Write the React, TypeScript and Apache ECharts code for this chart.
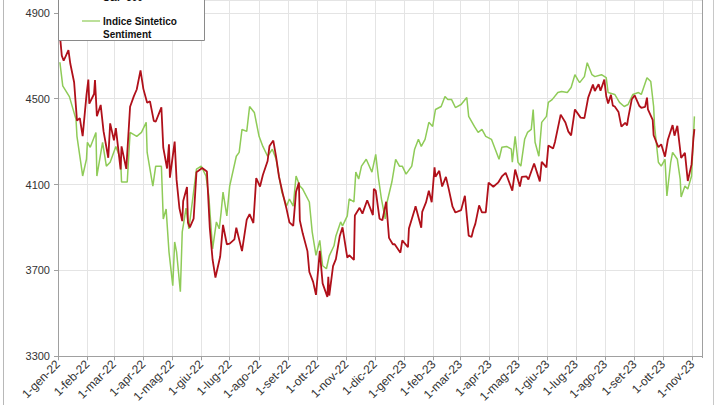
import React, { useEffect, useRef } from "react";
import * as echarts from "echarts";

const spxDates = [
  "2022-01-03","2022-01-05","2022-01-07","2022-01-12","2022-01-14","2022-01-18","2022-01-21","2022-01-24","2022-01-27","2022-01-31",
  "2022-02-02","2022-02-03","2022-02-08","2022-02-09","2022-02-11","2022-02-15","2022-02-18","2022-02-23","2022-02-25",
  "2022-03-01","2022-03-03","2022-03-08","2022-03-09","2022-03-14","2022-03-18","2022-03-22","2022-03-25","2022-03-29",
  "2022-04-01","2022-04-05","2022-04-08","2022-04-12","2022-04-14","2022-04-20","2022-04-22","2022-04-26","2022-04-28","2022-04-29",
  "2022-05-04","2022-05-06","2022-05-09","2022-05-12","2022-05-13","2022-05-17","2022-05-18","2022-05-20","2022-05-24","2022-05-27",
  "2022-06-02","2022-06-07","2022-06-10","2022-06-13","2022-06-16","2022-06-21","2022-06-24","2022-06-28",
  "2022-07-01","2022-07-06","2022-07-08","2022-07-14","2022-07-19","2022-07-22","2022-07-26","2022-07-29",
  "2022-08-02","2022-08-05","2022-08-10","2022-08-12","2022-08-16","2022-08-19","2022-08-22","2022-08-26","2022-08-30",
  "2022-09-02","2022-09-06","2022-09-09","2022-09-12","2022-09-13","2022-09-16","2022-09-21","2022-09-23","2022-09-27","2022-09-30",
  "2022-10-04","2022-10-07","2022-10-12","2022-10-13","2022-10-14","2022-10-18","2022-10-21","2022-10-25","2022-10-28",
  "2022-11-02","2022-11-04","2022-11-09","2022-11-10","2022-11-15","2022-11-18","2022-11-23","2022-11-29","2022-11-30",
  "2022-12-02","2022-12-06","2022-12-09","2022-12-13","2022-12-16","2022-12-20","2022-12-22","2022-12-28","2022-12-30",
  "2023-01-05","2023-01-06","2023-01-12","2023-01-13","2023-01-19","2023-01-20","2023-01-24","2023-01-27","2023-01-30",
  "2023-02-02","2023-02-03","2023-02-07","2023-02-10","2023-02-14","2023-02-17","2023-02-21","2023-02-24",
  "2023-03-02","2023-03-06","2023-03-10","2023-03-13","2023-03-15","2023-03-17","2023-03-21","2023-03-24","2023-03-28","2023-03-31",
  "2023-04-05","2023-04-10","2023-04-14","2023-04-18","2023-04-25","2023-04-28",
  "2023-05-03","2023-05-05","2023-05-10","2023-05-12","2023-05-18","2023-05-24","2023-05-26","2023-05-31",
  "2023-06-02","2023-06-07","2023-06-09","2023-06-15","2023-06-20","2023-06-23","2023-06-26","2023-06-30",
  "2023-07-06","2023-07-10","2023-07-14","2023-07-19","2023-07-21","2023-07-25","2023-07-27","2023-07-31",
  "2023-08-02","2023-08-04","2023-08-07","2023-08-09","2023-08-11","2023-08-15","2023-08-18","2023-08-22","2023-08-24","2023-08-25","2023-08-29",
  "2023-09-01","2023-09-06","2023-09-08","2023-09-12","2023-09-14","2023-09-15","2023-09-20","2023-09-21","2023-09-26","2023-09-29",
  "2023-10-03","2023-10-06","2023-10-11","2023-10-13","2023-10-16","2023-10-20","2023-10-24","2023-10-27","2023-10-31",
  "2023-11-02","2023-11-03"
];
const spxValues = [
  4797,4701,4677,4726,4663,4577,4398,4410,4326,4516,
  4589,4477,4522,4587,4419,4471,4349,4225,4385,
  4306,4363,4171,4278,4173,4463,4512,4543,4632,
  4546,4481,4488,4397,4393,4460,4272,4175,4288,4132,
  4300,4123,3991,3930,4024,4089,3924,3901,3941,4158,
  4177,4161,3901,3750,3667,3765,3912,3822,
  3825,3845,3899,3790,3937,3962,3921,4130,
  4091,4145,4210,4280,4305,4228,4137,4058,3986,
  3924,3908,4067,4110,3933,3873,3790,3693,3647,3586,
  3791,3640,3577,3670,3583,3720,3753,3859,3901,
  3760,3771,3749,3956,3992,3965,4027,3958,4080,
  4072,3941,3934,4020,3852,3822,3822,3783,3840,
  3808,3895,3983,3999,3899,3973,4017,4071,4018,
  4180,4137,4164,4091,4136,4079,3997,3970,
  3981,4048,3862,3856,3892,3917,4003,3971,3971,4109,
  4090,4109,4138,4155,4072,4170,
  4091,4136,4138,4124,4198,4115,4206,4180,
  4282,4268,4299,4426,4389,4348,4329,4450,
  4412,4410,4505,4566,4536,4568,4537,4589,
  4513,4478,4518,4468,4464,4438,4370,4388,4376,4406,4498,
  4516,4466,4458,4462,4505,4450,4402,4330,4274,4288,
  4230,4309,4377,4328,4374,4224,4248,4117,4194,
  4318,4358
];

const sentDates = [
  "2022-01-03","2022-01-06","2022-01-13","2022-01-20","2022-01-21","2022-01-26","2022-01-27","2022-01-31",
  "2022-02-01","2022-02-04","2022-02-10","2022-02-11","2022-02-17","2022-02-21","2022-02-25",
  "2022-03-03","2022-03-08","2022-03-09","2022-03-15","2022-03-18","2022-03-25","2022-03-30",
  "2022-04-04","2022-04-05","2022-04-11","2022-04-14","2022-04-20","2022-04-22","2022-04-25","2022-04-28",
  "2022-05-02","2022-05-04","2022-05-06","2022-05-10","2022-05-12","2022-05-16","2022-05-19","2022-05-23","2022-05-27",
  "2022-06-01","2022-06-06","2022-06-09","2022-06-13","2022-06-17","2022-06-20","2022-06-22","2022-06-24","2022-06-28",
  "2022-07-01","2022-07-08","2022-07-11","2022-07-14","2022-07-19","2022-07-22","2022-07-27",
  "2022-08-01","2022-08-05","2022-08-10","2022-08-15","2022-08-19","2022-08-22","2022-08-25","2022-08-30",
  "2022-09-02","2022-09-06","2022-09-09","2022-09-13","2022-09-16","2022-09-23","2022-09-26","2022-09-30",
  "2022-10-04","2022-10-07","2022-10-11","2022-10-14","2022-10-19","2022-10-21","2022-10-26","2022-10-28",
  "2022-11-02","2022-11-04","2022-11-09","2022-11-11","2022-11-14","2022-11-17","2022-11-22","2022-11-28",
  "2022-12-02","2022-12-05","2022-12-08","2022-12-12","2022-12-14","2022-12-19","2022-12-23","2022-12-27","2022-12-30",
  "2023-01-03","2023-01-09","2023-01-12","2023-01-16","2023-01-19","2023-01-23","2023-01-27","2023-01-31",
  "2023-02-03","2023-02-09","2023-02-13","2023-02-16","2023-02-20","2023-02-24",
  "2023-03-02","2023-03-08","2023-03-10","2023-03-16","2023-03-20","2023-03-24","2023-03-28",
  "2023-04-03","2023-04-07","2023-04-11","2023-04-14","2023-04-19","2023-04-24","2023-04-25","2023-04-28",
  "2023-05-01","2023-05-04","2023-05-08","2023-05-11","2023-05-15","2023-05-17","2023-05-19","2023-05-23","2023-05-26","2023-05-31",
  "2023-06-02","2023-06-06","2023-06-12","2023-06-16","2023-06-22","2023-06-26","2023-06-30",
  "2023-07-03","2023-07-05","2023-07-10","2023-07-13","2023-07-18","2023-07-21","2023-07-28",
  "2023-08-02","2023-08-04","2023-08-11","2023-08-16","2023-08-21","2023-08-25","2023-08-30",
  "2023-09-05","2023-09-08","2023-09-14","2023-09-18","2023-09-21","2023-09-22","2023-09-26","2023-09-29",
  "2023-10-03","2023-10-05","2023-10-09","2023-10-11","2023-10-16","2023-10-19","2023-10-20","2023-10-24","2023-10-27","2023-10-31",
  "2023-11-03"
];
const sentValues = [
  4670,4560,4510,4404,4325,4172,4140,4218,
  4297,4274,4343,4140,4297,4186,4204,
  4278,4218,4112,4112,4343,4325,4343,
  4390,4250,4093,4186,4186,3940,3986,3787,
  3629,3833,3787,3601,3880,3990,3894,4033,4172,
  4186,4140,4047,3801,3926,3894,3972,4065,3954,
  4093,4232,4250,4357,4348,4464,4436,
  4325,4278,4232,4265,4218,4140,4065,4000,
  4033,4000,4140,4093,4079,4019,3880,3770,
  3840,3722,3708,3768,3815,3861,3926,3908,
  3954,4033,4019,4158,4126,4186,4218,4158,
  4241,4126,4033,3940,4019,4112,4218,4186,4186,
  4149,4186,4265,4311,4278,4311,4390,4371,
  4450,4464,4510,4496,4496,4459,
  4473,4506,4418,4371,4343,4357,4325,
  4311,4265,4218,4274,4278,4265,4204,4325,
  4204,4186,4311,4343,4357,4450,4297,4232,4390,4418,
  4483,4496,4529,4534,4529,4552,4612,
  4589,4575,4603,4668,4612,4603,4612,
  4598,4529,4520,4483,4464,4473,4520,
  4529,4520,4598,4580,4464,4371,4204,4186,
  4218,4047,4204,4250,4218,4126,4042,4093,4079,4140,
  4418
];

const monthNames = ["gen","feb","mar","apr","mag","giu","lug","ago","set","ott","nov","dic"];
const seriesNames = ["S&P 500", "Indice Sintetico\nSentiment"];
const yMin = 3300;
const yMax = 4960;
const yInterval = 400;
const xMin = "2022-01-01";
const xMax = "2023-11-11";

const RED = "#b0101a";
const GREEN = "#8fcb58";

export default function App() {
  const ref = useRef<HTMLDivElement>(null);
  useEffect(() => {
    if (!ref.current) return;
    const chart = echarts.init(ref.current, null, { renderer: "svg" });
    const spxData = spxDates.map((d, i) => [d, spxValues[i]]);
    const sentData = sentDates.map((d, i) => [d, sentValues[i]]);
    const font = "Liberation Sans, Arial, sans-serif";
    chart.setOption({
      animation: false,
      backgroundColor: "#ffffff",
      grid: {
        left: 58,
        right: 18,
        top: 0,
        bottom: 47,
        show: false,
      },
      xAxis: {
        type: "time",
        min: xMin,
        max: xMax,
        minInterval: 28 * 86400000,
        maxInterval: 31 * 86400000,
        axisLine: { show: true, lineStyle: { color: "#a0a0a0", width: 1 } },
        axisTick: { show: true, length: 4, lineStyle: { color: "#a0a0a0" } },
        splitLine: { show: true, lineStyle: { color: "#e4e4e4", width: 1 } },
        axisLabel: {
          rotate: 45,
          fontSize: 12,
          fontFamily: font,
          color: "#333",
          margin: 6,
          hideOverlap: false,
          formatter: (v: number) => {
            const d = new Date(v);
            return `1-${monthNames[d.getMonth()]}-${String(d.getFullYear()).slice(2)}`;
          },
        },
      },
      yAxis: {
        type: "value",
        min: yMin,
        max: yMax,
        interval: yInterval,
        axisLine: { show: true, lineStyle: { color: "#a0a0a0", width: 1 } },
        axisTick: { show: true, length: 4, lineStyle: { color: "#a0a0a0" } },
        splitLine: { show: true, lineStyle: { color: "#e4e4e4", width: 1 } },
        axisLabel: {
          fontSize: 11,
          fontFamily: font,
          color: "#333",
          margin: 8,
          showMaxLabel: false,
          formatter: (v: number) => (v % yInterval === (yMin % yInterval) ? String(v) : ""),
        },
      },
      series: [
        {
          name: seriesNames[1],
          type: "line",
          data: sentData,
          showSymbol: false,
          symbol: "none",
          lineStyle: { color: GREEN, width: 1.5 },
          z: 2,
        },
        {
          name: seriesNames[0],
          type: "line",
          data: spxData,
          showSymbol: false,
          symbol: "none",
          lineStyle: { color: RED, width: 1.8 },
          z: 3,
        },
      ],
      graphic: [
        { type: "line", shape: { x1: 3.5, y1: 0, x2: 3.5, y2: 405 }, style: { stroke: "#b8b8b8", lineWidth: 1 }, z: 10 },
        { type: "line", shape: { x1: 713.5, y1: 0, x2: 713.5, y2: 405 }, style: { stroke: "#c8c8c8", lineWidth: 1 }, z: 10 },
        { type: "line", shape: { x1: 702.5, y1: 0, x2: 702.5, y2: 358 }, style: { stroke: "#a0a0a0", lineWidth: 1 }, z: 10 },
        {
          type: "rect",
          shape: { x: 58.5, y: -30, width: 146, height: 70.5 },
          style: { fill: "#ffffff", stroke: "#8a8a8a", lineWidth: 1 },
          z: 20,
        },
        { type: "line", shape: { x1: 82, y1: -3, x2: 100, y2: -3 }, style: { stroke: RED, lineWidth: 1.5 }, z: 21 },
        {
          type: "text",
          x: 103,
          y: -3,
          style: { text: seriesNames[0], fontSize: 10, fontWeight: "bold", fontFamily: font, fill: "#111", textVerticalAlign: "middle" },
          z: 21,
        },
        { type: "line", shape: { x1: 82, y1: 21, x2: 100, y2: 21 }, style: { stroke: GREEN, lineWidth: 1.2 }, z: 21 },
        {
          type: "text",
          x: 103,
          y: 15,
          style: { text: "Indice Sintetico\nSentiment", fontSize: 10, fontWeight: "bold", fontFamily: font, fill: "#111", lineHeight: 13 },
          z: 21,
        },
      ],
    });
    return () => chart.dispose();
  }, []);
  return <div ref={ref} style={{ width: 720, height: 405, position: "absolute", left: 0, top: 0 }} />;
}
